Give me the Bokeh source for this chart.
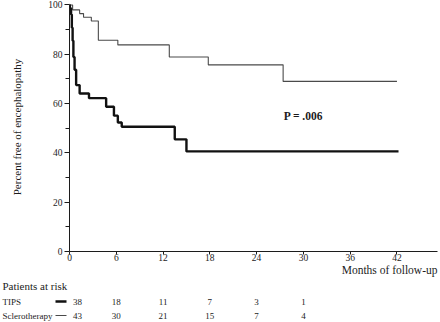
from bokeh.plotting import figure
from bokeh.models import Range1d, FixedTicker, Title
from bokeh.layouts import column
from bokeh.embed import file_html
from bokeh.resources import INLINE
from bokeh.core.properties import value
from bokeh.models import Label

# ---- data ----
tips_t = [0, 0.05, 0.2, 0.3, 0.4, 0.5, 0.65, 0.85, 1.3, 2.5, 4.7, 5.7, 6.2, 6.7, 13.5, 15.0, 42.2]
tips_v = [100, 98.7, 96.1, 90.8, 85.5, 78.9, 73.7, 67.5, 64.1, 62.2, 58.7, 55.1, 52.3, 50.6, 45.5, 40.6, 40.6]
scl_t = [0, 0.4, 1.3, 1.8, 2.8, 3.7, 6.2, 12.8, 17.8, 27.4, 42.0]
scl_v = [100, 98.0, 96.5, 95.0, 93.5, 85.7, 83.8, 78.9, 75.7, 69.0, 69.0]
risk_months = [0, 6, 12, 18, 24, 30]
tips_risk = [38, 18, 11, 7, 3, 1]
scl_risk = [43, 30, 21, 15, 7, 4]
x_ticks = [0, 6, 12, 18, 24, 30, 36, 42]
y_ticks = [0, 20, 40, 60, 80, 100]
y_minor = [10, 30, 50, 70, 90]
group_names = ["TIPS", "Sclerotherapy"]
p_text = "P = .006"

SERIF = "Liberation Serif"
X_END = 47.2
LEFT_PX = 69
RIGHT_PX = 3
PX = (440 - LEFT_PX - RIGHT_PX) / X_END
INK = "#1c1c1c"
TOP_H = 277

p = figure(width=440, height=TOP_H, x_range=Range1d(0, X_END), y_range=Range1d(0, 101),
           output_backend="svg", toolbar_location=None,
           min_border_left=LEFT_PX, min_border_right=RIGHT_PX,
           min_border_top=2, min_border_bottom=TOP_H - 251)
p.xgrid.visible = False
p.ygrid.visible = False
p.outline_line_color = None
p.background_fill_color = "white"

for ax in (p.xaxis[0], p.yaxis[0]):
    ax.axis_line_color = INK
    ax.major_tick_line_color = INK
    ax.minor_tick_line_color = INK
    ax.major_label_text_font = SERIF
    ax.major_label_text_color = INK
    ax.major_label_text_font_size = "9.5px"
    ax.axis_label_text_font = SERIF
    ax.axis_label_text_font_style = "normal"
    ax.axis_label_text_color = INK

p.xaxis.ticker = FixedTicker(ticks=x_ticks)
p.xaxis.major_tick_out = 3
p.xaxis.major_tick_in = 0
p.xaxis.minor_tick_out = 0
p.xaxis.major_label_standoff = -1

p.add_layout(Title(text="Months of follow-up", align="right", text_font=SERIF,
                   text_font_style="normal", text_font_size="11.5px", text_color=INK,
                   standoff=-3, offset=0), "below")

p.yaxis.ticker = FixedTicker(ticks=y_ticks, minor_ticks=y_minor)
p.yaxis.bounds = (0, 100)
p.yaxis.major_tick_out = 5
p.yaxis.major_tick_in = 0
p.yaxis.minor_tick_out = 4
p.yaxis.minor_tick_in = 0
p.yaxis.major_label_standoff = 2
p.yaxis.axis_label = "Percent free of encephalopathy"
p.yaxis.axis_label_text_font_size = "11px"
p.yaxis.axis_label_standoff = 22

p.step(scl_t, scl_v, mode="after", line_width=1.1, line_color="#4a4a4a")
p.step(tips_t, tips_v, mode="after", line_width=2.4, line_color="#111111")

p.add_layout(Label(x=30, y=55, text=p_text, text_font=SERIF, text_font_style="bold",
                   text_font_size="11.5px", text_align="center", text_baseline="middle",
                   text_color=INK))

# ---- patients at risk table ----
BOT_H = 322 - TOP_H
q = figure(width=440, height=BOT_H, x_range=Range1d(-LEFT_PX / PX, (440 - LEFT_PX) / PX),
           y_range=Range1d(BOT_H, 0), output_backend="svg", toolbar_location=None,
           x_axis_type=None, y_axis_type=None, min_border=0)
q.frame_align = False
q.outline_line_color = None
q.xgrid.visible = False
q.ygrid.visible = False

top = TOP_H
left_x = -67 / PX
row_y = [301 - top, 315 - top]
q.text(x=[left_x], y=[285 - top], text=["Patients at risk"], text_font=value(SERIF),
       text_font_size="11px", text_baseline="middle", text_color=INK)
q.text(x=[left_x, left_x], y=row_y, text=group_names, text_font=value(SERIF),
       text_font_size="9px", text_baseline="middle", text_color=INK)
q.segment(x0=[-14 / PX], y0=[row_y[0]], x1=[-3 / PX], y1=[row_y[0]], line_width=2.4, line_color="#111111")
q.segment(x0=[-14 / PX], y0=[row_y[1]], x1=[-3 / PX], y1=[row_y[1]], line_width=1.1, line_color="#4a4a4a")

for vals, yy in ((tips_risk, row_y[0]), (scl_risk, row_y[1])):
    labels = [str(v) for v in vals]
    q.text(x=risk_months[:1], y=[yy], text=labels[:1], text_font=value(SERIF),
           text_font_size="9px", text_align="center", text_baseline="middle",
           text_color=INK, x_offset=8)
    q.text(x=risk_months[1:], y=[yy] * (len(vals) - 1), text=labels[1:], text_font=value(SERIF),
           text_font_size="9px", text_align="center", text_baseline="middle", text_color=INK)

layout = column(p, q, spacing=0)
open("out.html", "w").write(file_html(layout, INLINE))
